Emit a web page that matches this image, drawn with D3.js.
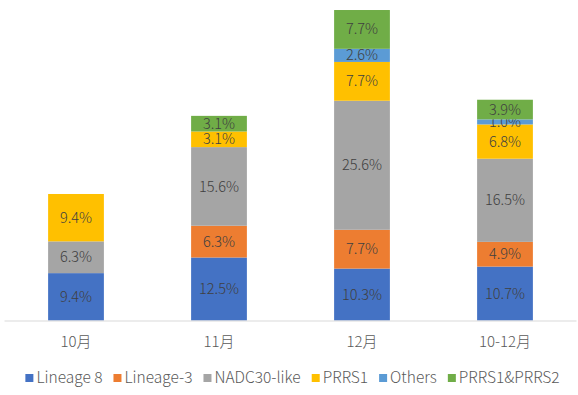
<!DOCTYPE html>
<html>
<head>
<meta charset="utf-8">
<script src="https://cdn.jsdelivr.net/npm/d3@7"></script>
<style>
  body { margin: 0; background: #fff; }
  svg { display: block; font-family: "Noto Sans CJK SC", "Noto Sans", sans-serif; font-weight: 300; }
</style>
</head>
<body>
<svg id="canvas" width="578" height="395"></svg>
<script>
let categories = ["10月", "11月", "12月", "10-12月"]
let seriesNames = ["Lineage 8", "Lineage-3", "NADC30-like", "PRRS1", "Others", "PRRS1&PRRS2"]
let lineage8 = [9.4, 12.5, 10.3, 10.7]
let lineage3 = [0, 6.3, 7.7, 4.9]
let nadc30 = [6.3, 15.6, 25.6, 16.5]
let prrs1 = [9.4, 3.1, 7.7, 6.8]
let others = [0, 0, 2.6, 1.0]
let prrs12 = [0, 3.1, 7.7, 3.9]
let colors = ["#4472C4", "#ED7D31", "#A5A5A5", "#FFC000", "#5B9BD5", "#70AD47"]

let allSeries = [lineage8, lineage3, nadc30, prrs1, others, prrs12]

let rows = categories.map((c, i) => {
    let row = {cat: c}
    seriesNames.forEach((s, j) => { row[s] = allSeries[j][i] })
    return row
})

let canvas = d3.select("#canvas")

let x = d3.scaleBand()
    .domain(categories)
    .range([4.5, 576.5])
    .paddingInner(0.61)
    .paddingOuter(0.305)

let y = d3.scaleLinear()
    .domain([0, 62])
    .range([320.5, 8])

let stacked = d3.stack().keys(seriesNames)(rows)

let layers = canvas.selectAll("g.layer")
    .data(stacked)
    .enter()
    .append("g")
    .attr("class", "layer")
    .attr("fill", (d, i) => colors[i])

layers.selectAll("rect")
    .data(d => d.map(p => ({p: p, key: d.key})))
    .enter()
    .filter(d => d.p[1] - d.p[0] > 0)
    .append("rect")
    .attr("x", d => x(d.p.data.cat))
    .attr("width", x.bandwidth())
    .attr("y", d => y(d.p[1]))
    .attr("height", d => y(d.p[0]) - y(d.p[1]))

layers.selectAll("text")
    .data(d => d.map(p => ({p: p, key: d.key})))
    .enter()
    .filter(d => d.p[1] - d.p[0] > 0)
    .append("text")
    .attr("x", d => x(d.p.data.cat) + x.bandwidth() / 2)
    .attr("y", d => (y(d.p[0]) + y(d.p[1])) / 2)
    .attr("dy", "0.35em")
    .attr("text-anchor", "middle")
    .attr("fill", "#404040")
    .attr("font-size", 14.5)
    .text(d => (d.p[1] - d.p[0]).toFixed(1) + "%")

// axis line
canvas.append("line")
    .attr("x1", 4.5).attr("x2", 576.5)
    .attr("y1", y(0) + 0.5).attr("y2", y(0) + 0.5)
    .attr("stroke", "#D9D9D9")
    .attr("stroke-width", 1)

canvas.append("g")
    .selectAll("text")
    .data(categories)
    .enter()
    .append("text")
    .attr("x", c => x(c) + x.bandwidth() / 2)
    .attr("y", 347)
    .attr("text-anchor", "middle")
    .attr("fill", "#595959")
    .attr("font-size", 15)
    .text(c => c)

// legend
let legend = canvas.append("g").attr("transform", "translate(0,378)")
let items = legend.selectAll("g")
    .data(seriesNames)
    .enter()
    .append("g")

items.append("rect")
    .attr("width", 8).attr("height", 8)
    .attr("y", -4)
    .attr("fill", (d, i) => colors[i])

items.append("text")
    .attr("x", 11)
    .attr("dy", "0.35em")
    .attr("fill", "#595959")
    .attr("font-size", 15.5)
    .text(d => d)

let widths = []
items.each(function() { widths.push(this.getBBox().width) })
let gap = 11
let total = d3.sum(widths) + gap * (widths.length - 1)
let cx = (585 - total) / 2
items.attr("transform", (d, i) => {
    let pos = cx
    cx += widths[i] + gap
    return "translate(" + pos + ",0)"
})
</script>
</body>
</html>
